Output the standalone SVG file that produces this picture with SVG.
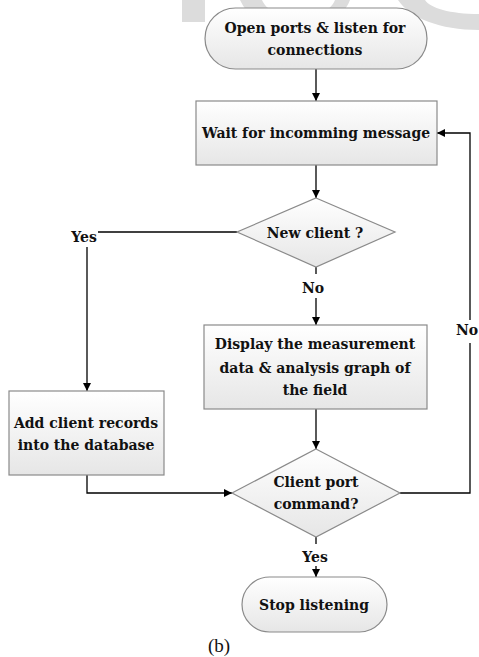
<svg xmlns="http://www.w3.org/2000/svg" width="479" height="657" viewBox="0 0 479 657">
<defs>
<linearGradient id="g" x1="0" y1="0" x2="0" y2="1">
<stop offset="0" stop-color="#ffffff"/>
<stop offset="1" stop-color="#e6e6e6"/>
</linearGradient>
<marker id="ah" viewBox="0 0 10 10" refX="10" refY="5" markerWidth="8" markerHeight="8" markerUnits="userSpaceOnUse" orient="auto">
<path d="M0,0 L10,5 L0,10 z" fill="#000"/>
</marker>
<style>
.shape{fill:url(#g);stroke:#8a8a8a;stroke-width:1.2}
.t{font-family:"DejaVu Serif","Liberation Serif",serif;font-weight:bold;font-size:14px;fill:#111;text-anchor:middle}
.c{fill:none;stroke:#000;stroke-width:1.3}
.wm{fill:#dcdcdc}
</style>
</defs>
<g id="watermark">
<rect class="wm" x="182" y="0" width="23" height="22"/>
<path class="wm" d="M240,0 C250,22 275,30 298,30 C322,30 342,20 350,0 L335,0 C330,12 316,17 298,17 C280,17 266,10 262,0 Z"/>
<path class="wm" d="M398,0 C410,18 440,30 479,30 L479,14 C450,14 430,8 425,0 Z"/>
</g>
<g id="connectors">
<line class="c" x1="316" y1="69" x2="316" y2="101" marker-end="url(#ah)"/>
<line class="c" x1="316" y1="165" x2="316" y2="198" marker-end="url(#ah)"/>
<polyline class="c" points="237,232 98,232"/>
<line class="c" x1="87" y1="247" x2="87" y2="391" marker-end="url(#ah)"/>
<line class="c" x1="316" y1="267" x2="316" y2="274"/>
<line class="c" x1="316" y1="298" x2="316" y2="325" marker-end="url(#ah)"/>
<line class="c" x1="316" y1="409" x2="316" y2="449" marker-end="url(#ah)"/>
<polyline class="c" points="87,475 87,493 232,493" marker-end="url(#ah)"/>
<polyline class="c" points="400,493 470,493 470,343"/>
<polyline class="c" points="470,320 470,133 437,133" marker-end="url(#ah)"/>
<line class="c" x1="316" y1="537" x2="316" y2="544"/>
<line class="c" x1="316" y1="566" x2="316" y2="577" marker-end="url(#ah)"/>
<text class="t" x="84" y="242">Yes</text>
<text class="t" x="313" y="293">No</text>
<text class="t" x="467" y="335">No</text>
<text class="t" x="315" y="562">Yes</text>
</g>
<g id="start">
<rect class="shape" x="205" y="8" width="222" height="61" rx="30.5"/>
<text class="t" x="315" y="33">Open ports &amp; listen for</text>
<text class="t" x="315" y="55">connections</text>
</g>
<g id="wait">
<rect class="shape" x="196" y="101" width="241" height="64"/>
<text class="t" x="316" y="138">Wait for incomming message</text>
</g>
<g id="newclient">
<polygon class="shape" points="316,198 395,232 316,267 237,232"/>
<text class="t" x="315" y="238">New client ?</text>
</g>
<g id="display">
<rect class="shape" x="204" y="325" width="223" height="84"/>
<text class="t" x="315" y="349">Display the measurement</text>
<text class="t" x="315" y="373">data &amp; analysis graph of</text>
<text class="t" x="315" y="395">the field</text>
</g>
<g id="addclient">
<rect class="shape" x="9" y="391" width="155" height="84"/>
<text class="t" x="86" y="428">Add client records</text>
<text class="t" x="86" y="450">into the database</text>
</g>
<g id="portcmd">
<polygon class="shape" points="316,449 400,493 316,537 232,493"/>
<text class="t" x="316" y="487">Client port</text>
<text class="t" x="316" y="509">command?</text>
</g>
<g id="stop">
<rect class="shape" x="242" y="577" width="145" height="55" rx="27.5"/>
<text class="t" x="314" y="610">Stop listening</text>
</g>
<text x="219" y="652" style="font-family:'Liberation Serif',serif;font-size:19px;fill:#111;text-anchor:middle">(b)</text>
</svg>
